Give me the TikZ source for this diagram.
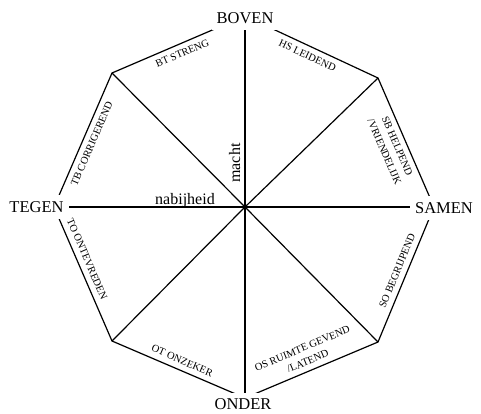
\documentclass[tikz,border=0pt]{standalone}
\usepackage{fontspec}
\setmainfont{Liberation Serif}
\usetikzlibrary{calc}
\tikzset{
  polelbl/.style={rectangle, fill=white, inner xsep=5pt, inner ysep=6pt,
    font=\fontsize{16.5}{18}\selectfont},
  axislbl/.style={inner sep=0pt, font=\fontsize{16}{18}\selectfont},
  rimlbl/.style={sloped, inner sep=1pt, outer sep=5pt, align=center,
    font=\fontsize{10.5}{14}\selectfont},
  rim/.style={line width=1.2pt, line join=miter},
  spoke/.style={line width=1.2pt},
}
\begin{document}
\begin{tikzpicture}[x=1pt, y=-1pt]
\useasboundingbox (0,0) rectangle (481,413);

% corners of the octagon
\coordinate (c)  at (245,207);
\coordinate (n)  at (245,16);
\coordinate (ne) at (378,78);
\coordinate (e)  at (434,207);
\coordinate (se) at (378,342);
\coordinate (s)  at (245,398);
\coordinate (sw) at (112,341);
\coordinate (w)  at (54,207);
\coordinate (nw) at (112,73);

\foreach \p in {n,ne,e,se,s,sw,w,nw}
  \draw[spoke] (c) -- (\p);

\draw[rim] (w) -- node[rimlbl, below] {TB CORRIGEREND} (nw)
  -- node[rimlbl, below] {BT STRENG} (n)
  -- node[rimlbl, below] {HS LEIDEND} (ne)
  -- node[rimlbl, below] {SB HELPEND\\/VRIENDELIJK} (e)
  -- node[rimlbl, above] {SO BEGRIJPEND} (se)
  -- node[rimlbl, above] {OS RUIMTE GEVEND\\/LATEND} (s)
  -- node[rimlbl, above] {OT ONZEKER} (sw)
  -- node[rimlbl, above, pos=0.58] {TO ONTEVREDEN} (w);

\node (boven) [polelbl] at (245,18.5) {BOVEN};
\node (tegen) [polelbl] at (36.5,207) {TEGEN};
\node (samen) [polelbl] at (444,208)  {SAMEN};
\node (onder) [polelbl] at (243,404.5) {ONDER};

\node (nabij) [axislbl, anchor=base] at (185,204) {nabijheid};
\node (macht) [axislbl, anchor=base, rotate=90] at (240,163) {macht};

\end{tikzpicture}
\end{document}
